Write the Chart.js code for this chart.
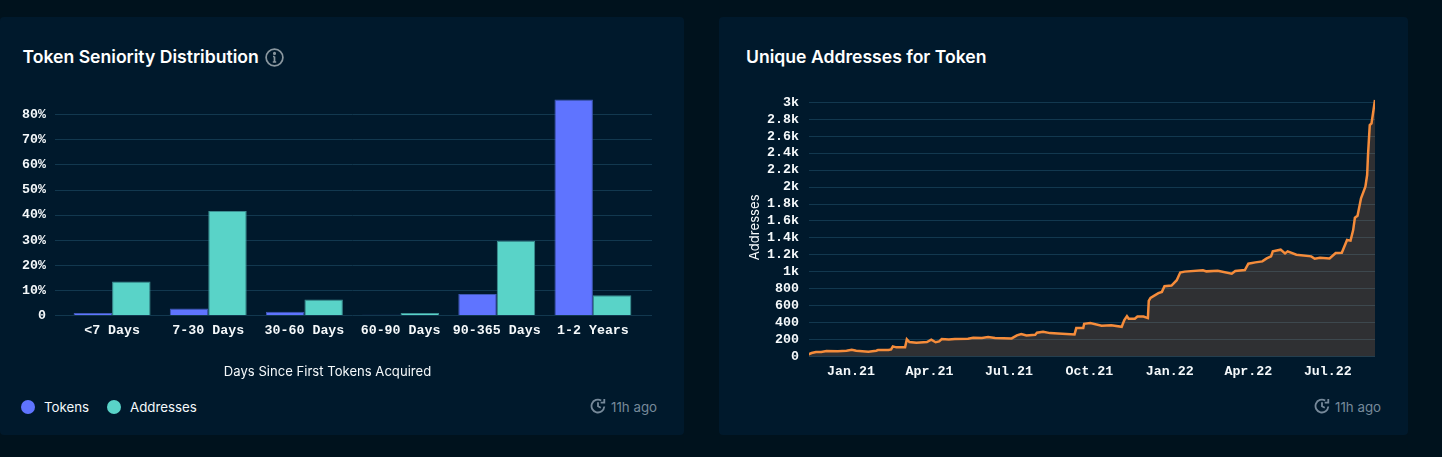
<!DOCTYPE html>
<html>
<head>
<meta charset="utf-8">
<title>Token charts</title>
<script src="https://cdn.jsdelivr.net/npm/chart.js@4"></script>
<style>
    html, body { margin: 0; padding: 0; background: #00121d; width: 1442px; height: 457px; overflow: hidden; }
    body { font-family: Inter, sans-serif; color: #f5f9fb; position: relative; }
    .card { position: absolute; top: 17px; height: 418px; background: #00192c; border-radius: 4px; }
    #cardLeft { left: 0; width: 684px; }
    #cardRight { left: 719px; width: 689px; }
    h2 { position: absolute; margin: 0; font-size: 17.6px; line-height: 24px; font-weight: 600; top: 28px; color: #fff; }
    canvas { position: absolute; top: 73px; }
    .info { position: absolute; left: 265px; top: 31px; }
    .updated { position: absolute; top: 381px; font-size: 13.3px; line-height: 18px; color: #76899a; }
    .updated svg { position: absolute; left: -21px; top: 0; }
    .legend { position: absolute; top: 381px; font-size: 13.3px; line-height: 18px; }
    .legend i { position: absolute; left: -23px; top: 2px; width: 14px; height: 14px; border-radius: 50%; }
</style>
</head>
<body>
<div class="card" id="cardLeft">
    <h2 style="left:22.5px">Token Seniority Distribution</h2>
    <svg class="info" width="19" height="19" viewBox="0 0 19 19" fill="none" stroke="#8a979f" stroke-width="1.7">
        <circle cx="9.5" cy="9.5" r="8.4"></circle>
        <path d="M9.5 8.5v5.5M7.8 14h3.4M8 8.5h1.5"></path>
        <circle cx="9.5" cy="5.4" r="0.7"></circle>
    </svg>
    <canvas id="seniorityChart" width="654" height="290"></canvas>
    <div class="legend" style="left:44px"><i id="dotTokens"></i>Tokens</div>
    <div class="legend" style="left:130px"><i id="dotAddresses"></i>Addresses</div>
    <div class="updated" style="left:611px">
        <svg width="16" height="16" viewBox="0 0 15 15" fill="none" stroke="#76899a" stroke-width="1.7"><path d="M13.4 8A6 6 0 1 1 10.5 2.4M7.5 4v3.8l2.6 1.4M13.4 1v3.4H10"></path></svg>
        11h ago
    </div>
</div>
<div class="card" id="cardRight">
    <h2 style="left:27px">Unique Addresses for Token</h2>
    <canvas id="addressChart" width="689" height="290"></canvas>
    <div class="updated" style="left:616px">
        <svg width="16" height="16" viewBox="0 0 15 15" fill="none" stroke="#76899a" stroke-width="1.7"><path d="M13.4 8A6 6 0 1 1 10.5 2.4M7.5 4v3.8l2.6 1.4M13.4 1v3.4H10"></path></svg>
        11h ago
    </div>
</div>

<script>
// ---------- Data ----------
const seniorityLabels = ["<7 Days", "7-30 Days", "30-60 Days", "60-90 Days", "90-365 Days", "1-2 Years"];
const tokenShare = [1, 2.8, 1.5, 0.3, 8.6, 86];
const addressShare = [13.6, 41.6, 6.4, 1, 29.8, 8.1];

// days counted from 1 Jan 2021
const addressDays = [
    -49, -45, -40, -34, -28, -15, -5, 1, 6, 20, 29, 31, 43, 46, 48, 52, 62, 64, 67, 75, 87, 92, 97, 101, 104,
    112, 119, 134, 140, 150, 157, 165, 184, 190, 195, 201, 211, 213, 220, 228, 237, 256, 258, 266, 267, 274,
    287, 298, 310, 313, 316, 318, 325, 328, 335, 340, 341, 343, 352, 356, 359, 367, 373, 377, 382, 403, 407,
    420, 436, 440, 451, 455, 463, 471, 476, 481, 483, 492, 497, 500, 510, 527, 531, 537, 548, 555, 562, 568,
    572, 575, 577, 580, 584, 589, 591, 592, 594, 596, 600
];
const addressCounts = [
    27, 43, 55, 55, 67, 63, 70, 82, 70, 59, 70, 78, 78, 86, 122, 110, 110, 204, 172, 165, 172, 200, 170, 180, 208,
    204, 208, 212, 223, 220, 231, 220, 216, 251, 267, 251, 259, 282, 294, 278, 274, 263, 337, 337, 388, 396,
    365, 372, 353, 431, 478, 447, 447, 474, 474, 455, 659, 694, 749, 764, 831, 839, 902, 992, 1003, 1018, 1006,
    1014, 979, 1010, 1022, 1096, 1112, 1124, 1159, 1183, 1242, 1262, 1218, 1242, 1203, 1183, 1155, 1167, 1159, 1222, 1226, 1376,
    1368, 1493, 1639, 1662, 1867, 2004, 2142, 2378, 2731, 2751, 3026
];
const quarterDays = [0, 90, 181, 273, 365, 455, 546];
const quarterLabels = ["Jan.21", "Apr.21", "Jul.21", "Oct.21", "Jan.22", "Apr.22", "Jul.22"];

// ---------- Shared styles ----------
const tokenColor = "#5f74ff";
const addressColor = "#59d3c8";
const gridColor = "#12384f";
const textColor = "#f5f9fb";
const tickFont = { family: "'Liberation Mono', monospace", size: 13.3, weight: "bold" };
const titleFont = { family: "Inter, sans-serif", size: 13.1, weight: "normal" };

document.getElementById("dotTokens").style.background = tokenColor;
document.getElementById("dotAddresses").style.background = addressColor;

Chart.defaults.animation = false;
Chart.defaults.color = textColor;

// Pins a scale to a fixed thickness, without the extra room for half a label
function pinScale(scale, size) {
    if (scale.isHorizontal()) scale.height = size;
    else scale.width = size;
    scale.paddingTop = 0;
    scale.paddingBottom = 0;
    scale.paddingLeft = 0;
    scale.paddingRight = 0;
}

// ---------- Seniority Chart ----------
new Chart(document.getElementById("seniorityChart"), {
    type: "bar",
    data: {
        labels: seniorityLabels,
        datasets: [
            { label: "Tokens", data: tokenShare, backgroundColor: tokenColor, borderColor: "#3f58b5", borderWidth: 1 },
            { label: "Addresses", data: addressShare, backgroundColor: addressColor, borderColor: "#3c8f92", borderWidth: 1 }
        ]
    },
    options: {
        responsive: false,
        categoryPercentage: 0.8,
        barPercentage: 1,
        layout: { padding: { top: 4.6, right: 2, left: 3 } },
        plugins: {
            legend: { display: false },
            tooltip: { enabled: false },
            title: {
                display: true,
                position: "bottom",
                text: "Days Since First Tokens Acquired",
                font: titleFont,
                color: textColor,
                padding: 0
            }
        },
        scales: {
            x: {
                grid: { display: false, drawTicks: false },
                border: { display: false },
                ticks: { font: tickFont, color: textColor, padding: 7, maxRotation: 0, autoSkip: false },
                afterFit: (scale) => pinScale(scale, 48.7)
            },
            y: {
                min: 0,
                max: 88,
                grid: { color: gridColor, tickLength: 9 },
                border: { display: false },
                ticks: {
                    stepSize: 10,
                    includeBounds: false,
                    font: tickFont,
                    color: textColor,
                    padding: 9,
                    callback: (v) => (v === 0 ? "0" : v + "%")
                },
                afterFit: (scale) => pinScale(scale, 61)
            },
            // Only here so the gridlines run on past the last bar
            yRight: {
                position: "right",
                min: 0,
                max: 88,
                grid: { color: gridColor, tickLength: 11, drawOnChartArea: false },
                border: { display: false },
                ticks: { stepSize: 10, includeBounds: false, display: false },
                afterFit: (scale) => pinScale(scale, 11)
            }
        }
    }
});

// ---------- Address Chart ----------
new Chart(document.getElementById("addressChart"), {
    type: "line",
    data: {
        labels: addressDays,
        datasets: [{
            label: "Addresses",
            data: addressCounts,
            borderColor: "#f58c3b",
            backgroundColor: "rgba(212,134,77,0.22)",
            borderWidth: 2.5,
            pointRadius: 0,
            tension: 0,
            fill: "origin"
        }]
    },
    options: {
        responsive: false,
        layout: { padding: { top: 8, right: 33, left: 28 } },
        plugins: { legend: { display: false }, tooltip: { enabled: false } },
        scales: {
            x: {
                type: "linear",
                min: -48,
                max: 600,
                grid: { display: false, drawTicks: false },
                border: { display: false },
                afterBuildTicks: (scale) => { scale.ticks = quarterDays.map((value) => ({ value })); },
                ticks: {
                    font: tickFont,
                    color: textColor,
                    padding: 7,
                    maxRotation: 0,
                    autoSkip: false,
                    callback: (v) => quarterLabels[quarterDays.indexOf(v)]
                },
                afterFit: (scale) => pinScale(scale, 23.3)
            },
            y: {
                min: 0,
                max: 3050,
                grid: { color: gridColor, drawTicks: false },
                border: { display: false },
                ticks: {
                    stepSize: 200,
                    includeBounds: false,
                    autoSkip: false,
                    font: tickFont,
                    color: textColor,
                    padding: 10,
                    callback: (v) => (v >= 1000 ? v / 1000 + "k" : v)
                },
                title: { display: true, text: "Addresses", font: titleFont, color: textColor, padding: { top: 0, bottom: 0 } },
                afterFit: (scale) => pinScale(scale, 62)
            }
        }
    }
});
</script>
</body>
</html>
